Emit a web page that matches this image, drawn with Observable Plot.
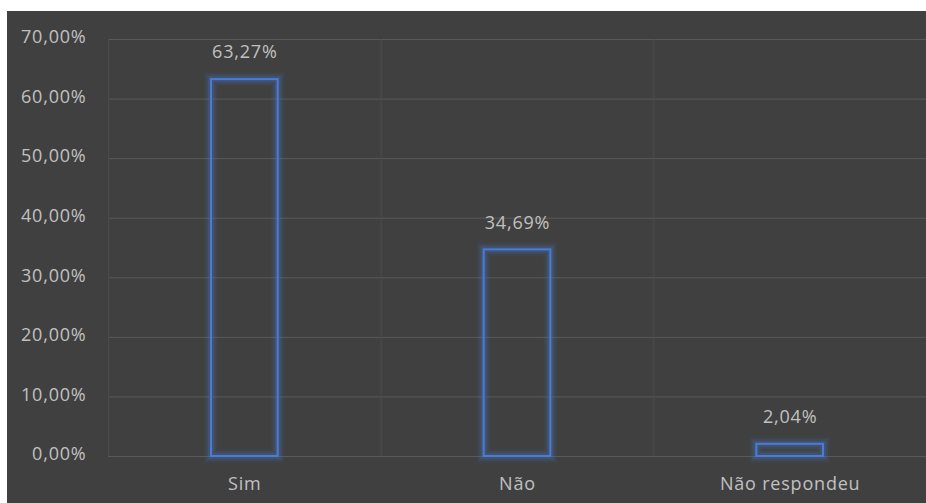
<!DOCTYPE html>
<html><head><meta charset="utf-8">
<script src="https://cdn.jsdelivr.net/npm/d3@7"></script>
<script src="https://cdn.jsdelivr.net/npm/@observablehq/plot@0.6"></script>
<style>
body{margin:0;background:#fff;}
#chart{position:absolute;left:7px;top:11px;width:919px;height:492px;background:#404040;overflow:hidden;}
#chart text{letter-spacing:0.8px;}
</style></head><body><div id="chart"></div>
<script>
const categories = ["Sim", "Não", "Não respondeu"];
const values = [63.27, 34.69, 2.04];
const yTicks = [0, 10, 20, 30, 40, 50, 60, 70];
const data = categories.map((c, i) => ({cat: c, i, value: values[i]}));
const loc = d3.formatLocale({decimal: ",", thousands: ".", grouping: [3], currency: ["R$", ""]});
const f2 = loc.format(".2f");
const pct = v => f2(v) + "%";
const glow = [{w: 14, o: 0.06}, {w: 10, o: 0.1}, {w: 6, o: 0.18}];
const inset = 103;
const barOpts = {x1: "i", x2: d => d.i + 1, y: "value", insetLeft: inset, insetRight: inset, fill: "none"};
const plot = Plot.plot({
  width: 919, height: 492, marginLeft: 101, marginRight: 0, marginTop: 28, marginBottom: 47,
  style: {background: "transparent", color: "#c0c0c0", fontFamily: "Open Sans", fontSize: "18px"},
  x: {domain: [0, 3]},
  y: {domain: [0, 70]},
  marks: [
    Plot.gridY(yTicks, {stroke: "#595959", strokeOpacity: 1}),
    Plot.gridX([0, 1, 2, 3], {stroke: "#4b4b4b", strokeOpacity: 1}),
    ...glow.map(g => Plot.rectY(data, {...barOpts, stroke: "#4a80e4", strokeOpacity: g.o, strokeWidth: g.w})),
    Plot.rectY(data, {...barOpts, stroke: "#4a7bd6", strokeWidth: 2}),
    Plot.text(data, {x: d => d.i + 0.5, y: "value", text: d => pct(d.value), dy: -27, fill: "#c0c0c0", fontSize: 18}),
    Plot.axisY(yTicks, {tickSize: 0, tickPadding: 22, dy: -2, tickFormat: pct, label: null, fontSize: 18}),
    Plot.axisX([0.5, 1.5, 2.5], {tickSize: 0, tickPadding: 21, tickFormat: d => categories[Math.floor(d)], label: null, fontSize: 18})
  ]
});
document.getElementById("chart").appendChild(plot);
</script></body></html>
